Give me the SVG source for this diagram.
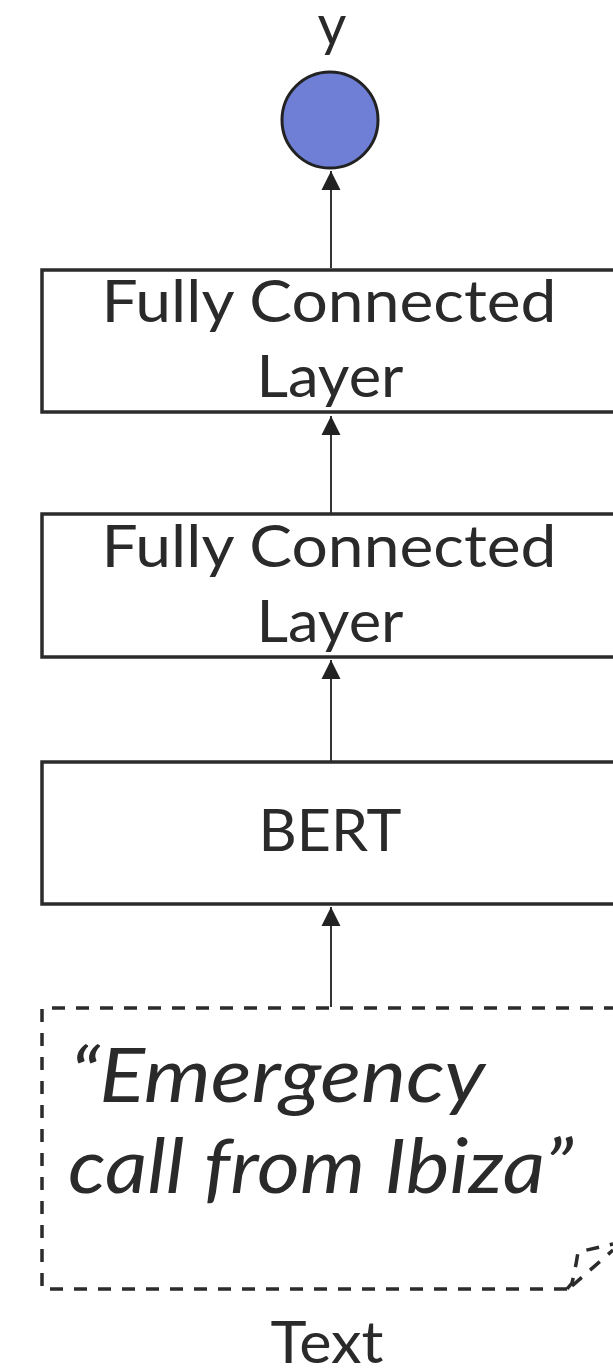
<svg xmlns="http://www.w3.org/2000/svg" width="613" height="1370" viewBox="0 0 613 1370">
<style>
.box{fill:#fff;stroke:#2b2b2b;stroke-width:3.5}
.dash{fill:none;stroke:#2b2b2b;stroke-width:3.5;stroke-dasharray:13 11}
.lbl{font-family:Lato,"Open Sans","Liberation Sans",sans-serif;font-weight:400;fill:#2a2a2a;text-anchor:middle}
.it{font-family:Lato,"Open Sans","Liberation Sans",sans-serif;font-weight:400;fill:#2a2a2a;font-style:italic}
.con{stroke:#333;stroke-width:2;fill:none}
</style>
<defs>
<marker id="ah" viewBox="0 0 20 20" refX="20" refY="10" markerWidth="19" markerHeight="20" markerUnits="userSpaceOnUse" orient="auto">
<path d="M0,0 L20,10 L0,20 z" fill="#222"/>
</marker>
</defs>
<rect width="613" height="1370" fill="#fff"/>
<g id="connectors">
<line class="con" x1="331" y1="268" x2="331" y2="171" marker-end="url(#ah)"/>
<line class="con" x1="331" y1="513" x2="331" y2="416" marker-end="url(#ah)"/>
<line class="con" x1="331" y1="761" x2="331" y2="660" marker-end="url(#ah)"/>
<line class="con" x1="331" y1="1007" x2="331" y2="907" marker-end="url(#ah)"/>
</g>
<g id="output-y">
<text class="lbl" x="332" y="45" font-size="56">y</text>
<circle cx="330" cy="120" r="48" fill="#6e7fd5" stroke="#222" stroke-width="3"/>
</g>
<g id="fc-layer-2">
<rect class="box" x="42" y="270" width="576" height="142"/>
<text class="lbl" x="329" y="322" font-size="58" textLength="455" lengthAdjust="spacingAndGlyphs">Fully Connected</text>
<text class="lbl" x="330" y="397" font-size="58" textLength="147" lengthAdjust="spacingAndGlyphs">Layer</text>
</g>
<g id="fc-layer-1">
<rect class="box" x="42" y="514" width="576" height="143"/>
<text class="lbl" x="329" y="567" font-size="58" textLength="455" lengthAdjust="spacingAndGlyphs">Fully Connected</text>
<text class="lbl" x="330" y="642" font-size="58" textLength="147" lengthAdjust="spacingAndGlyphs">Layer</text>
</g>
<g id="bert">
<rect class="box" x="42" y="762" width="576" height="142"/>
<text class="lbl" x="330" y="851" font-size="59" textLength="143" lengthAdjust="spacingAndGlyphs">BERT</text>
</g>
<g id="text-input">
<path class="dash" d="M567 1289 H42 V1008 H618 V1244"/>
<path class="dash" d="M567 1289 L572 1283 Q576 1266 578 1252 L613 1244" stroke-dasharray="11 8"/>
<path class="dash" d="M572 1286 L613 1250" stroke-dasharray="11 8"/>
<text class="it" x="70" y="1102" font-size="76" textLength="415" lengthAdjust="spacingAndGlyphs">“Emergency</text>
<text class="it" x="68" y="1193" font-size="76" textLength="505" lengthAdjust="spacingAndGlyphs">call from Ibiza”</text>
<text class="lbl" x="327" y="1363" font-size="58" textLength="113" lengthAdjust="spacingAndGlyphs">Text</text>
</g>
</svg>
